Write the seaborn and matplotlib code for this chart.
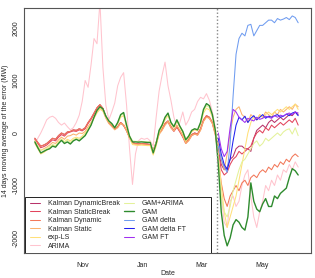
import matplotlib.pyplot as plt
import matplotlib.patches as mpatches
import numpy as np
import pandas as pd
import seaborn as sns

# 3-day grid, 14 Sep 2019 -> 8 Jun 2020 ; break (lockdown) after index 61
dates = pd.date_range("2019-09-14", periods=90, freq="3D")
n_pre = 62
break_date = pd.Timestamp("2020-03-17")

# ---- values (MW) ----
gam = [-170, -280, -380, -350, -320, -300, -250, -270, -200, -140,
       -200, -170, -210, -150, -120, -150, -100, -50, 50, 150,
       300, 430, 500, 460, 320, 230, 180, 100, 200, 350,
       390, 150, -60, -170, -170, -175, -170, -175, -180, -180,
       -380, -200, 50, 150, 300, 380, 200, 120, 250, 130,
       30, -130, -60, 50, 80, 60, 200, 450, 560, 520,
       350, 50,
       -600, -1500, -1950, -2150, -2000, -1750, -1650, -1700, -1800, -1850,
       -1600, -950, -1300, -1450, -1500, -1350, -1250, -1400, -1400, -1200,
       -1250, -1150, -1100, -1050, -850, -680, -720, -800]

arima = [-190, -100, 0, 120, 250, 300, 320, 280, 200, 150,
         190, 120, 60, 100, 200, 340, 600, 1000, 870, 1300,
         1800, 1700, 2500, 1250, 530, 250, 400, 570, 900, 1060,
         1150, 530, -300, -980, -400, -150, -100, -120, -100, -150,
         -250, 300, 800, 1100, 1350, 900, 620, 300, 110, 200,
         400, 150, 250, 400, 450, 600, 680, 650, 750, 620,
         400, 100,
         -600, -1200, -1700, -1800, -1300, -1200, -1400, -1300, -1000, -800,
         -700, -1200, -1600, -1800, -1500, -1300, -1000, -1100, -900, -1000,
         -800, -900, -700, -750, -600, -700, -550, -650]

kalman_dyn_pre = [-100, -180, -250, -230, -200, -150, -100, -120, -50, 0,
                  -30, 20, 30, 60, 50, 80, 60, 100, 200, 280,
                  380, 480, 540, 470, 320, 200, 150, 80, 120, 200,
                  150, 50, -80, -180, -200, -210, -200, -205, -210, -220,
                  -330, -180, 0, 80, 180, 230, 120, 50, 130, 40,
                  -60, -180, -120, -30, 0, -20, 80, 250, 330, 300,
                  200, 0]
kalman_static_pre = [-150, -250, -330, -300, -270, -230, -180, -200, -130, -80,
                     -120, -60, -50, -20, -40, 0, -10, 30, 120, 200,
                     300, 400, 480, 420, 280, 180, 120, 60, 100, 180,
                     160, 40, -100, -200, -220, -225, -220, -225, -230, -240,
                     -380, -220, -30, 50, 150, 220, 100, 40, 150, 50,
                     -60, -200, -150, -50, -20, -40, 50, 220, 300, 280,
                     180, -50]
kalman_staticbreak_pre = [-120, -200, -280, -260, -230, -180, -130, -150, -80, -30,
                          -60, 0, 20, 40, 30, 60, 40, 80, 180, 260,
                          360, 470, 530, 460, 300, 190, 140, 70, 110, 190,
                          140, 40, -90, -190, -210, -215, -210, -215, -220, -230,
                          -350, -190, -10, 60, 160, 210, 100, 30, 110, 20,
                          -80, -200, -140, -50, -20, -40, 60, 230, 310, 280,
                          180, -20]
explsq_pre = [-200, -300, -400, -370, -330, -280, -230, -250, -170, -120,
              -170, -120, -150, -100, -80, -100, -60, 0, 80, 180,
              280, 380, 450, 420, 300, 220, 170, 100, 170, 300,
              330, 120, -80, -220, -230, -235, -230, -235, -240, -240,
              -420, -250, 0, 120, 250, 330, 170, 100, 220, 120,
              0, -160, -80, 20, 60, 40, 160, 380, 470, 440,
              300, 50]
gam_arima_pre = [-150, -250, -330, -320, -290, -260, -220, -240, -180, -120,
                 -170, -140, -180, -130, -100, -120, -80, -30, 60, 160,
                 300, 420, 480, 450, 320, 230, 180, 110, 190, 330,
                 370, 150, -50, -150, -160, -160, -160, -165, -170, -170,
                 -350, -180, 60, 160, 290, 360, 200, 130, 240, 130,
                 40, -110, -50, 50, 80, 60, 190, 420, 520, 490,
                 330, 60]

# after the break
kalman_dynbreak_post = [-300, -600, -700, -650, -500, -450, -300, -250, -250, -300,
                        -300, -350, -100, 50, 100, 150, 100, 200, 250, 200,
                        250, 300, 250, 300, 350, 330, 400, 350]
kalman_staticbreak_post = [-350, -700, -800, -750, -600, -500, -450, -350, -400, -350,
                           -300, -250, -100, 0, 50, 0, 100, 50, 150, 100,
                           150, 200, 150, 200, 250, 200, 280, 150]
kalman_dyn_post = [-500, -950, -1250, -1400, -1200, -1100, -1000, -1100, -950, -900,
                   -1000, -850, -800, -850, -750, -700, -750, -650, -700, -600,
                   -650, -550, -600, -500, -550, -450, -400, -450]
kalman_static_post = [-200, -500, -700, -400, 0, 300, 450, 500, 350, 300,
                      200, 350, 300, 250, 350, 300, 400, 350, 300, 400,
                      350, 450, 400, 450, 500, 450, 550, 500]
explsq_post = [-400, -1000, -1500, -1800, -1600, -1400, -1200, -900, -600, -300,
               0, 200, 300, 250, 350, 300, 350, 400, 350, 400,
               450, 400, 450, 500, 450, 500, 550, 450]
gam_arima_post = [-500, -1200, -1500, -1600, -1400, -1100, -900, -700, -550, -500,
                  -400, -300, -200, -150, -250, -200, -100, -150, -100, -50,
                  0, -50, 20, 60, 80, -20, 100, -50]
gam_delta = [-250, -500, -650, -750, -200, 700, 1500, 1800, 1900, 1850,
             2050, 2070, 1850, 1950, 2050, 2050, 2100, 2150, 2150, 2100,
             2180, 2150, 2170, 2200, 2160, 2230, 2200, 2100]
gam_delta_ft = [-100, -400, -600, -700, -500, -150, 150, 300, 250, 320,
                200, 280, 330, 250, 300, 350, 280, 320, 300, 330,
                350, 300, 320, 360, 330, 380, 400, 330]
gam_ft = [0, -300, -450, -350, 100, 450, 400, 300, 250, 200,
          280, 250, 230, 300, 260, 280, 320, 300, 280, 330,
          300, 340, 320, 360, 380, 350, 400, 380]

legend_order = ["Kalman DynamicBreak", "Kalman StaticBreak", "Kalman Dynamic",
                "Kalman Static", "exp-LS", "ARIMA", "GAM+ARIMA", "GAM",
                "GAM delta", "GAM delta FT", "GAM FT"]
colors = {
    "Kalman DynamicBreak": "#B8336A",
    "Kalman StaticBreak": "#E2445C",
    "Kalman Dynamic": "#F2785A",
    "Kalman Static": "#FBB36E",
    "exp-LS": "#FFE07A",
    "ARIMA": "#FFC4CE",
    "GAM+ARIMA": "#E4F29A",
    "GAM": "#2E8B2E",
    "GAM delta": "#6F9CF0",
    "GAM delta FT": "#2020F0",
    "GAM FT": "#A030F0",
}

post_dates = dates[n_pre:]
series = {
    "ARIMA": (dates, arima),
    "Kalman DynamicBreak": (dates, kalman_dyn_pre + kalman_dynbreak_post),
    "Kalman StaticBreak": (dates, kalman_staticbreak_pre + kalman_staticbreak_post),
    "Kalman Dynamic": (dates, kalman_dyn_pre + kalman_dyn_post),
    "Kalman Static": (dates, kalman_static_pre + kalman_static_post),
    "exp-LS": (dates, explsq_pre + explsq_post),
    "GAM+ARIMA": (dates, gam_arima_pre + gam_arima_post),
    "GAM": (dates, gam),
    "GAM delta": (post_dates, gam_delta),
    "GAM delta FT": (post_dates, gam_delta_ft),
    "GAM FT": (post_dates, gam_ft),
}

sns.set_style("white")
plt.rcParams["font.family"] = ["Liberation Sans", "DejaVu Sans"]

fig = plt.figure(figsize=(3.15, 2.78), dpi=100)
ax = fig.add_axes([24 / 315, 1 - 253 / 278, 287 / 315, 245 / 278])

# draw order (pink underneath, GAM variants on top)
for name, (x, y) in series.items():
    sns.lineplot(x=x, y=y, color=colors[name], lw=1.0 if name == "GAM" else 0.75,
                 label=name, ax=ax, estimator=None, sort=False)

ax.axvline(break_date, color="#888888", ls=(0, (1, 1.5)), lw=1.0)

ax.set_xlim(pd.Timestamp("2019-09-03"), pd.Timestamp("2020-06-20"))
ax.set_ylim(-2286, 2381)
ax.set_yticks([-2000, -1000, 0, 1000, 2000])
ax.set_yticklabels(["-2000", "-1000", "0", "1000", "2000"], rotation=90, va="center")
ax.set_xticks(pd.to_datetime(["2019-11-01", "2020-01-01", "2020-03-01", "2020-05-01"]))
ax.set_xticklabels(["Nov", "Jan", "Mar", "May"])
ax.tick_params(axis="x", length=3, pad=3.5, labelsize=5, color="#555555", direction="out")
ax.tick_params(axis="y", length=2, pad=1.2, labelsize=5, color="#555555", direction="out")
ax.set_xlabel("Date", fontsize=5, labelpad=0.5)
ax.set_ylabel("14 days moving average of the error (MW)", fontsize=5, labelpad=2.5)
for sp in ax.spines.values():
    sp.set_color("#555555")
    sp.set_linewidth(0.8)

# R-style legend box, drawn by hand so it can be as wide as the original
box = mpatches.Rectangle((1 / 287, 0), 186 / 287, 56 / 245, transform=ax.transAxes,
                         facecolor="white", edgecolor="#222222", lw=0.7, zorder=4)
ax.add_patch(box)

handles, labels = ax.get_legend_handles_labels()
lookup = dict(zip(labels, handles))
leg = ax.legend([lookup[k] for k in legend_order], legend_order, ncol=2,
                loc="lower left", bbox_to_anchor=(5 / 287, 2 / 245), borderaxespad=0,
                fontsize=5, frameon=False, handlelength=1.4, handletextpad=1.1,
                columnspacing=0.7, labelspacing=0.22, borderpad=0.2)
leg.set_zorder(5)

fig.savefig("out.png", dpi=100)
